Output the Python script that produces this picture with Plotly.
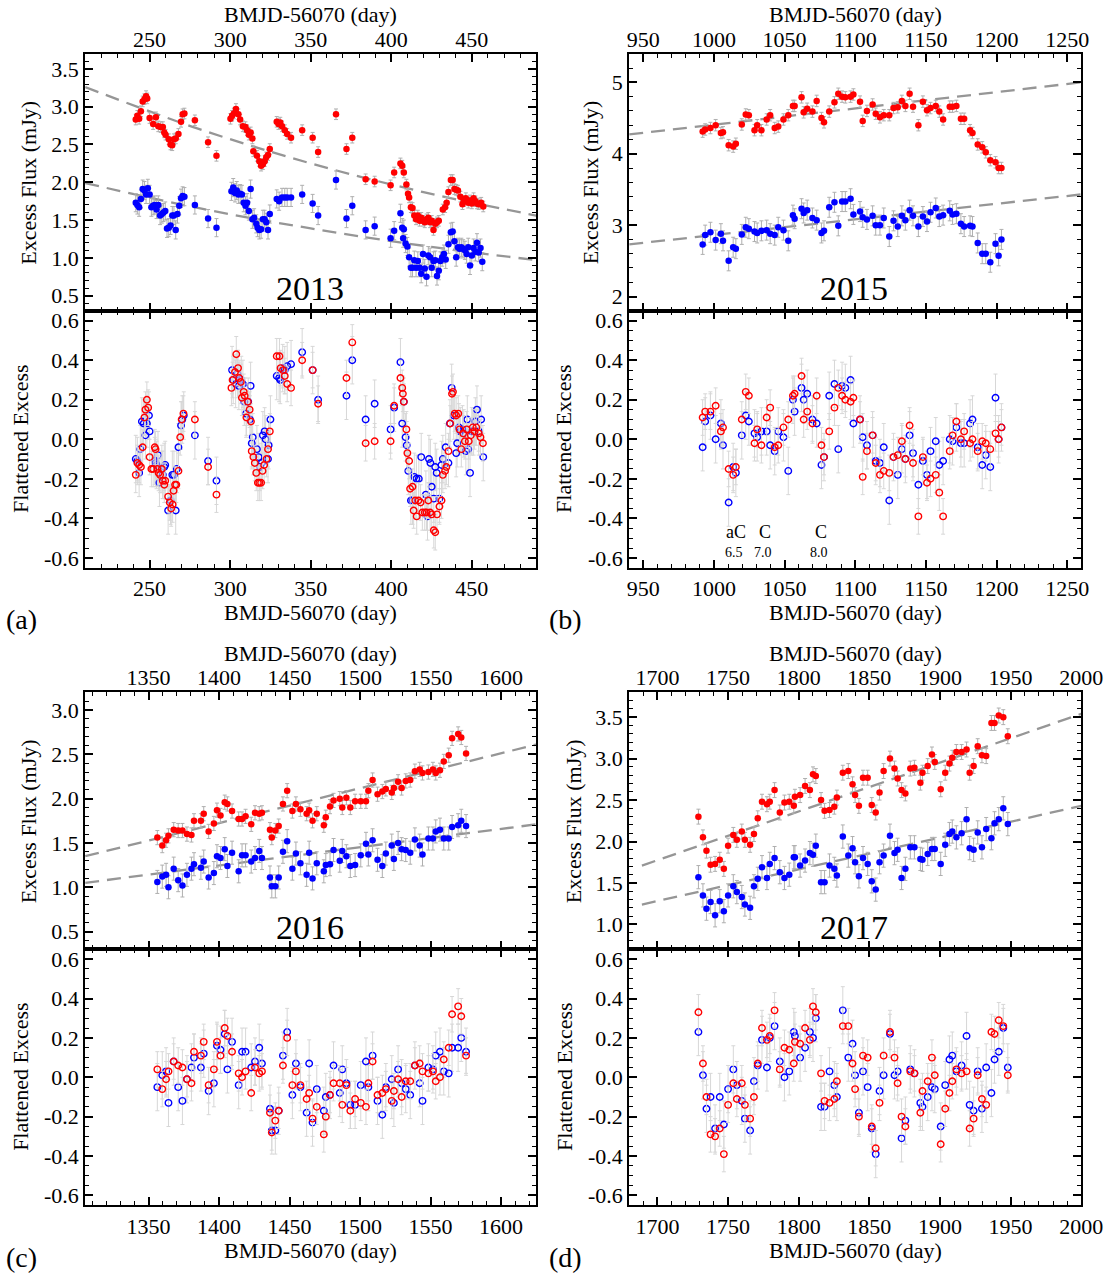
import plotly.graph_objects as go

W, H = 1115, 1280
FONT = "Liberation Serif, Times New Roman, serif"

# ======================= DATA =======================
# ---- Panel (a) 2013 : Excess flux ----
a_flux_red_x = [241.4,242.4,243.5,244.6,245.7,246.8,247.8,248.5,250.0,252.2,
                253.9,255.4,256.9,258.2,259.1,259.9,261.9,263.0,264.0,265.1,
                266.2,267.9,269.5,270.5,271.6,278.1,286.3,291.5,300.2,301.2,
                302.3,303.6,305.1,306.2,307.9,309.5,310.5,311.6,312.7,313.8,
                314.4,316.6,318.1,319.2,320.3,321.4,322.4,323.5,324.6,328.9,
                330.0,331.1,332.2,333.9,335.4,337.8,344.7,351.2,354.6,365.7,
                372.2,375.8,384.1,389.7,399.6,401.8,405.7,406.8,407.8,409.4,
                410.4,411.1,412.2,413.2,414.3,415.4,416.5,417.6,418.6,419.7,
                420.8,421.9,423.0,424.1,425.1,426.2,427.3,428.4,429.5,432.0,
                433.4,434.4,435.5,437.0,438.1,439.2,440.3,441.4,442.9,444.2,
                445.0,446.3,447.8,448.9,450.0,451.1,452.2,453.2,454.3,455.8,457.1]
a_flux_red_y = [2.83,2.88,2.84,2.94,3.07,3.10,3.14,3.11,2.85,2.77,
                2.86,2.74,2.73,2.73,2.66,2.63,2.57,2.50,2.49,2.57,
                2.58,2.64,2.80,2.90,2.91,2.82,2.53,2.35,2.84,2.88,
                2.91,2.97,2.90,2.83,2.74,2.73,2.69,2.63,2.66,2.58,
                2.41,2.35,2.28,2.22,2.24,2.28,2.33,2.36,2.44,2.80,
                2.77,2.79,2.74,2.69,2.64,2.59,2.69,2.59,2.40,2.90,
                2.44,2.59,2.04,2.01,1.96,2.13,2.25,2.22,2.13,1.97,
                1.85,1.80,1.67,1.66,1.56,1.51,1.56,1.49,1.53,1.49,
                1.47,1.51,1.53,1.47,1.49,1.37,1.45,1.47,1.49,1.64,
                1.67,1.73,1.87,2.03,2.03,1.91,1.90,1.89,1.81,1.71,
                1.75,1.79,1.73,1.76,1.72,1.79,1.75,1.72,1.71,1.73,1.68]
a_flux_blue_x = [241.4,242.4,243.5,244.6,245.7,246.8,247.8,248.9,250.0,251.1,
                 252.2,253.2,254.3,255.4,256.5,257.6,258.6,259.7,260.8,261.9,
                 263.0,264.1,265.1,266.2,267.3,268.4,269.5,270.5,271.6,278.1,
                 286.3,291.5,300.8,301.9,303.0,304.1,305.1,306.2,307.3,308.4,
                 309.5,310.5,311.6,312.7,313.8,314.9,316.2,317.0,318.1,319.2,
                 320.3,321.4,322.4,323.5,324.6,328.9,330.4,332.2,333.9,335.4,
                 337.8,344.7,351.2,354.6,365.7,372.2,375.8,384.1,389.7,399.6,
                 401.8,405.7,406.8,407.4,407.8,408.9,410.0,411.1,412.2,413.2,
                 414.3,415.4,416.5,417.6,418.6,419.7,420.8,421.9,423.0,424.1,
                 425.1,426.2,427.3,428.4,429.5,430.5,431.6,432.7,433.8,435.5,
                 437.0,438.1,439.2,440.3,441.4,442.4,443.5,444.6,445.7,446.8,
                 447.8,448.9,450.0,451.1,452.2,453.2,454.3,455.4,456.5]
a_flux_blue_y = [1.73,1.70,1.67,1.78,1.91,1.89,1.84,1.92,1.84,1.67,
                 1.69,1.70,1.64,1.70,1.56,1.58,1.60,1.62,1.39,1.40,
                 1.43,1.56,1.56,1.37,1.58,1.69,1.79,1.82,1.81,1.70,
                 1.52,1.40,1.88,1.93,1.86,1.89,1.84,1.85,1.84,1.73,
                 1.69,1.73,1.62,1.91,1.51,1.53,1.45,1.40,1.37,1.38,
                 1.51,1.51,1.47,1.37,1.58,1.78,1.75,1.80,1.80,1.80,
                 1.80,1.84,1.72,1.56,2.03,1.52,1.69,1.37,1.42,1.26,
                 1.36,1.59,1.40,1.26,1.38,1.19,1.15,1.01,0.87,0.87,
                 0.97,0.87,0.96,0.87,0.79,1.05,0.86,0.75,1.03,1.01,
                 0.87,0.96,0.97,0.76,0.83,0.96,1.01,1.05,0.98,1.18,
                 1.34,1.35,1.22,1.01,1.14,1.12,1.14,1.12,1.10,1.05,
                 1.14,0.90,1.03,1.13,1.08,1.20,1.07,1.13,0.95]
a_fit_x = [210, 280, 350, 420, 490]
a_fit_red = [3.26, 2.71, 2.25, 1.87, 1.56]
a_fit_blue = [1.99, 1.66, 1.39, 1.16, 0.97]

# ---- Panel (a) 2013 : Flattened excess ----
a_flat_red_x = [241.4,242.4,243.5,244.6,245.7,246.8,247.4,248.3,249.1,250.0,
                251.1,252.2,253.2,253.7,254.8,255.6,256.5,257.6,258.2,259.1,
                259.7,261.5,262.5,263.4,264.3,264.9,265.8,266.6,267.9,269.0,
                269.9,271.0,278.1,286.3,291.5,300.8,301.5,303.0,303.8,304.9,
                305.6,306.6,307.3,308.4,309.0,310.1,311.0,312.1,312.9,313.4,
                314.4,315.3,316.2,317.2,318.1,319.2,320.1,321.1,322.6,323.5,
                324.6,328.9,330.6,331.3,332.8,333.9,335.4,337.8,344.7,351.2,
                354.6,372.2,375.8,384.1,389.7,399.6,401.8,405.7,406.8,407.2,
                407.8,409.4,410.0,411.1,411.7,413.2,413.9,414.9,415.8,416.9,
                418.2,419.3,420.8,421.9,423.0,424.1,425.1,426.4,427.3,428.4,
                429.9,431.2,432.0,433.4,434.2,435.5,436.6,437.7,438.3,439.4,
                440.3,441.6,442.4,443.5,444.6,445.7,446.8,448.1,449.4,450.6,
                451.7,452.8,454.3,455.4,456.9]
a_flat_red_y = [-0.18,-0.12,-0.13,-0.14,-0.04,0.11,0.15,0.20,0.16,-0.09,
                -0.15,-0.15,-0.04,-0.05,-0.15,-0.17,-0.18,-0.15,-0.21,-0.23,
                -0.21,-0.29,-0.32,-0.35,-0.33,-0.26,-0.23,-0.23,-0.16,0.01,
                0.10,0.13,0.10,-0.14,-0.28,0.26,0.30,0.34,0.43,0.36,
                0.31,0.29,0.21,0.24,0.22,0.11,0.19,0.15,0.09,-0.06,
                -0.09,-0.12,-0.17,-0.22,-0.22,-0.22,-0.16,-0.13,-0.10,-0.05,
                0.04,0.42,0.42,0.36,0.35,0.32,0.28,0.26,0.40,0.35,
                0.18,0.31,0.49,-0.02,-0.01,-0.01,0.17,0.31,0.26,0.23,
                0.19,0.05,-0.07,-0.11,-0.25,-0.24,-0.36,-0.31,-0.39,-0.31,
                -0.32,-0.37,-0.37,-0.37,-0.31,-0.37,-0.38,-0.46,-0.47,-0.38,
                -0.34,-0.31,-0.18,-0.16,-0.14,-0.06,0.08,0.23,0.24,0.13,
                0.12,0.13,0.05,-0.05,0.03,-0.01,0.05,-0.01,0.02,0.06,
                0.04,0.06,0.03,0.01,-0.02]
a_flat_blue_x = [241.4,242.4,243.5,244.2,245.2,246.3,247.4,248.3,249.6,250.0,
                 253.2,253.7,254.3,255.2,256.1,257.6,258.2,259.1,259.7,261.5,
                 263.0,264.1,265.1,266.2,266.9,267.9,269.5,270.3,271.2,278.1,
                 286.3,291.5,301.2,301.9,303.4,304.5,305.4,306.9,307.9,308.8,
                 309.9,311.2,312.3,312.7,313.4,314.0,316.6,317.7,318.5,319.6,
                 320.3,321.4,322.0,323.5,323.9,325.0,328.9,330.4,331.1,332.6,
                 333.9,335.4,337.8,344.7,351.2,354.6,372.2,375.8,384.1,389.7,
                 399.6,401.8,405.7,406.8,407.8,408.9,409.6,410.6,412.2,413.2,
                 414.3,415.6,417.1,418.6,421.5,422.5,423.4,424.3,425.1,426.4,
                 427.3,428.2,429.9,431.2,432.0,433.8,435.5,436.4,437.5,438.8,
                 440.3,440.9,442.0,442.9,444.2,445.0,446.3,447.2,447.8,448.9,
                 450.0,451.1,452.2,453.2,454.3,455.8,457.1]
a_flat_blue_y = [-0.10,-0.11,-0.17,-0.05,0.09,0.08,0.02,0.08,0.12,0.04,
                 -0.11,-0.12,-0.13,-0.08,-0.22,-0.15,-0.18,-0.14,-0.13,-0.36,
                 -0.31,-0.18,-0.18,-0.36,-0.15,-0.04,0.07,0.10,0.12,0.02,
                 -0.11,-0.21,0.35,0.30,0.28,0.33,0.27,0.30,0.28,0.19,
                 0.13,0.19,0.10,0.27,-0.02,0.01,-0.05,-0.09,-0.14,-0.12,
                 0.02,0.04,0.00,-0.10,-0.03,0.10,0.32,0.31,0.30,0.36,
                 0.35,0.37,0.38,0.44,0.35,0.20,0.22,0.40,0.10,0.18,
                 0.05,0.16,0.39,0.08,0.19,0.01,-0.03,-0.16,-0.31,-0.31,
                 -0.19,-0.20,-0.20,-0.09,-0.28,-0.39,-0.10,-0.12,-0.24,-0.30,
                 -0.14,-0.17,-0.30,-0.13,-0.10,-0.04,-0.12,0.08,0.26,0.12,
                 -0.07,-0.02,0.06,0.04,0.05,0.03,-0.06,0.10,-0.05,-0.17,
                 0.04,0.04,0.09,0.15,0.04,0.10,-0.09]

# ---- Panel (b) 2015 ----
b_x = [992.0,993.8,997.5,1001.2,1004.9,1006.4,1010.4,1013.6,1015.5,1019.7,
       1022.5,1024.7,1028.7,1030.6,1033.6,1037.3,1039.8,1043.0,1045.5,1049.2,
       1052.6,1055.9,1057.1,1062.0,1063.5,1066.0,1069.7,1072.7,1076.1,1077.9,
       1081.6,1085.3,1088.0,1090.7,1093.0,1096.7,1098.7,1103.4,1105.3,1108.3,
       1112.3,1114.5,1117.5,1120.2,1124.1,1127.1,1130.1,1133.0,1135.5,1138.5,
       1140.9,1144.7,1147.9,1150.8,1153.3,1157.0,1159.5,1162.2,1166.9,1168.9,
       1171.6,1174.8,1177.1,1181.3,1183.0,1186.7,1189.9,1192.4,1195.6,1199.3,
       1201.5,1203.5]
b_flux_red = [4.31,4.34,4.36,4.40,4.29,4.30,4.12,4.10,4.14,4.41,
              4.55,4.54,4.33,4.40,4.33,4.48,4.54,4.36,4.38,4.48,
              4.54,4.67,4.67,4.79,4.58,4.63,4.59,4.74,4.50,4.44,
              4.59,4.72,4.84,4.80,4.79,4.80,4.83,4.73,4.46,4.60,
              4.69,4.56,4.51,4.54,4.54,4.64,4.65,4.74,4.67,4.84,
              4.66,4.40,4.73,4.61,4.64,4.67,4.59,4.48,4.66,4.66,
              4.67,4.49,4.49,4.33,4.29,4.13,4.09,4.02,3.91,3.88,
              3.80,3.80]
b_flux_blue = [2.73,2.86,2.90,2.79,2.88,2.78,2.50,2.69,2.67,2.87,
               2.97,2.95,2.91,2.89,2.92,2.93,2.88,2.86,2.97,2.93,
               2.78,3.14,3.09,3.23,3.17,3.21,3.10,3.07,2.89,2.92,
               3.25,3.32,2.99,3.33,3.33,3.37,3.15,3.19,3.11,3.08,
               3.13,3.00,3.00,3.10,2.84,3.06,2.98,3.13,3.07,3.21,
               3.13,2.98,3.12,3.05,3.18,3.24,3.12,3.14,3.20,3.15,
               3.16,3.02,2.98,2.99,2.98,2.75,2.60,2.60,2.48,2.74,
               2.57,2.80]
b_flat_red = [0.11,0.14,0.14,0.17,0.04,0.06,-0.15,-0.18,-0.14,0.10,
              0.24,0.22,-0.02,0.05,-0.03,0.11,0.16,-0.04,-0.03,0.06,
              0.10,0.22,0.23,0.32,0.10,0.14,0.08,0.22,-0.03,-0.09,
              0.04,0.16,0.26,0.22,0.20,0.19,0.21,0.10,-0.19,-0.06,
              0.02,-0.12,-0.18,-0.16,-0.17,-0.09,-0.08,-0.01,-0.10,0.07,
              -0.12,-0.39,-0.09,-0.22,-0.20,-0.18,-0.27,-0.39,-0.06,0.02,
              0.09,0.00,0.04,-0.02,0.00,-0.06,-0.01,-0.02,-0.05,0.03,
              0.00,0.06]
b_flat_blue = [-0.04,0.09,0.12,0.00,0.08,-0.03,-0.32,-0.14,-0.17,0.02,
               0.12,0.09,0.03,0.01,0.04,0.04,-0.03,-0.06,0.04,0.01,
               -0.16,0.20,0.14,0.26,0.20,0.23,0.10,0.08,-0.13,-0.09,
               0.22,0.28,-0.05,0.27,0.26,0.30,0.08,0.10,0.01,-0.03,
               0.02,-0.11,-0.12,-0.04,-0.31,-0.09,-0.18,-0.05,-0.10,0.02,
               -0.07,-0.23,-0.11,-0.18,-0.06,-0.01,-0.13,-0.11,0.00,-0.01,
               0.06,-0.02,-0.02,0.08,0.10,-0.04,-0.13,-0.08,-0.14,0.21,
               0.00,0.06]
b_fit_x = [940, 1260]
b_fit_red = [4.27, 5.00]
b_fit_blue = [2.73, 3.43]
b_note_x = [1015.5, 1036.1, 1076.1]
b_note_class = ["aC", "C", "C"]
b_note_num = ["6.5", "7.0", "8.0"]

# ---- Panel (c) 2016 ----
c_x = [1356.2,1359.7,1362.4,1364.1,1367.8,1371.0,1374.0,1377.2,1380.4,1382.2,
       1387.1,1389.1,1392.6,1396.3,1398.5,1401.0,1404.0,1405.9,1409.2,1413.9,
       1416.3,1418.8,1422.8,1425.5,1428.5,1430.4,1436.1,1437.4,1439.9,1442.3,
       1445.3,1448.3,1452.0,1454.5,1457.7,1462.1,1463.9,1466.3,1469.3,1474.3,
       1475.7,1478.7,1481.2,1485.6,1487.4,1490.3,1493.1,1496.5,1500.5,1504.2,
       1505.9,1508.9,1512.4,1515.8,1518.3,1522.5,1524.0,1527.0,1529.5,1532.4,
       1535.6,1538.9,1542.3,1544.3,1548.5,1551.7,1553.7,1556.7,1559.4,1562.9,
       1565.3,1569.6,1571.8,1575.2]
c_flux_red = [1.56,1.47,1.53,1.58,1.65,1.64,1.64,1.60,1.59,1.75,
              1.75,1.83,1.63,1.72,1.87,1.81,1.96,1.94,1.86,1.77,
              1.77,1.80,1.71,1.84,1.83,1.84,1.65,1.56,1.64,1.69,
              1.94,2.09,1.86,1.94,1.88,1.83,1.87,1.75,1.83,1.70,
              1.79,1.91,1.98,2.00,1.90,2.01,1.90,1.97,1.97,1.97,
              2.09,2.21,2.05,2.08,2.11,2.07,2.12,2.19,2.12,2.20,
              2.21,2.31,2.33,2.29,2.30,2.33,2.29,2.32,2.42,2.49,
              2.68,2.73,2.69,2.51]
c_flux_blue = [1.06,1.12,1.14,1.00,1.21,1.08,1.02,1.14,1.21,1.26,
               1.22,1.29,1.11,1.16,1.35,1.33,1.43,1.24,1.39,1.18,
               1.36,1.36,1.29,1.33,1.41,1.33,1.11,1.01,1.01,1.11,
               1.40,1.52,1.21,1.38,1.27,1.14,1.39,1.10,1.27,1.18,
               1.25,1.26,1.42,1.30,1.41,1.35,1.24,1.25,1.36,1.49,
               1.37,1.53,1.31,1.24,1.38,1.47,1.32,1.50,1.43,1.42,
               1.39,1.54,1.47,1.37,1.55,1.55,1.63,1.65,1.55,1.55,
               1.68,1.70,1.75,1.69]
c_flat_red = [0.04,-0.06,-0.01,0.03,0.08,0.06,0.05,-0.01,-0.03,0.13,
              0.11,0.18,-0.04,0.04,0.18,0.11,0.25,0.21,0.13,0.02,
              0.00,0.03,-0.08,0.05,0.02,0.03,-0.18,-0.28,-0.22,-0.17,
              0.06,0.20,-0.04,0.03,-0.04,-0.11,-0.08,-0.21,-0.15,-0.29,
              -0.20,-0.09,-0.03,-0.03,-0.14,-0.04,-0.17,-0.11,-0.13,-0.15,
              -0.03,0.08,-0.09,-0.08,-0.06,-0.12,-0.07,-0.01,-0.10,-0.02,
              -0.02,0.06,0.07,0.03,0.02,0.03,-0.02,0.00,0.09,0.15,
              0.32,0.36,0.31,0.11]
c_flat_blue = [-0.05,0.01,0.03,-0.13,0.08,-0.05,-0.12,-0.01,0.05,0.10,
               0.05,0.12,-0.07,-0.03,0.16,0.14,0.22,0.04,0.18,-0.04,
               0.13,0.13,0.05,0.08,0.15,0.07,-0.16,-0.27,-0.27,-0.17,
               0.11,0.23,-0.09,0.07,-0.05,-0.18,0.07,-0.23,-0.06,-0.17,
               -0.10,-0.09,0.06,-0.08,0.04,-0.03,-0.14,-0.14,-0.04,0.08,
               -0.05,0.11,-0.12,-0.19,-0.05,-0.01,-0.13,0.04,-0.03,-0.06,
               -0.09,0.06,-0.03,-0.12,0.05,0.04,0.11,0.13,0.03,0.02,
               0.15,0.15,0.20,0.13]
c_fit_x = [1305, 1625]
c_fit_red = [1.35, 2.61]
c_fit_blue = [1.05, 1.71]

# ---- Panel (d) 2017 ----
d_x = [1729.0,1732.2,1734.7,1737.6,1740.8,1744.1,1747.0,1750.0,1753.7,1756.2,
       1759.7,1761.9,1765.6,1768.3,1771.0,1774.0,1777.5,1779.5,1782.9,1786.6,
       1789.9,1793.3,1796.5,1797.3,1801.0,1804.5,1807.9,1810.1,1812.1,1815.8,
       1818.3,1821.8,1825.2,1827.0,1831.2,1835.1,1838.1,1839.9,1842.6,1845.5,
       1848.8,1851.7,1854.5,1857.2,1860.1,1864.6,1867.8,1870.0,1872.8,1875.5,
       1879.0,1881.9,1886.1,1887.6,1891.3,1894.3,1896.3,1900.5,1903.7,1906.7,
       1908.7,1911.6,1915.3,1918.8,1921.0,1923.8,1926.7,1929.7,1932.7,1936.4,
       1938.6,1941.6,1944.8,1948.0]
d_flux_red = [2.30,2.05,1.89,1.72,1.73,1.78,1.67,1.95,2.08,2.02,
              2.12,2.02,1.96,2.09,2.28,2.48,2.45,2.48,2.62,2.35,
              2.47,2.48,2.43,2.54,2.56,2.67,2.62,2.81,2.79,2.50,
              2.37,2.38,2.42,2.53,2.83,2.85,2.69,2.56,2.43,2.77,
              2.77,2.44,2.35,2.59,2.85,3.00,2.88,2.76,2.62,2.58,
              2.88,2.89,2.71,2.83,2.91,3.05,2.96,2.63,2.83,2.94,
              3.01,3.08,3.08,3.11,2.83,2.91,3.15,3.04,3.03,3.43,
              3.43,3.52,3.50,3.27]
d_flux_blue = [1.57,1.35,1.19,1.27,1.11,1.28,1.16,1.35,1.46,1.39,
               1.33,1.24,1.20,1.46,1.55,1.69,1.56,1.73,1.80,1.63,
               1.56,1.60,1.81,1.81,1.71,1.77,1.86,1.84,1.95,1.51,
               1.51,1.71,1.67,1.59,2.06,1.83,1.92,1.75,1.58,1.80,
               1.73,1.52,1.42,1.75,1.83,2.07,1.86,1.90,1.56,1.67,
               1.93,1.93,1.79,1.78,1.85,1.91,1.91,1.73,1.96,2.09,
               2.12,2.05,2.10,2.27,1.92,1.90,2.11,1.93,2.15,2.04,
               2.22,2.27,2.40,2.21]
d_flat_red = [0.33,0.07,-0.10,-0.29,-0.30,-0.26,-0.39,-0.14,-0.03,-0.11,
              -0.03,-0.14,-0.21,-0.10,0.07,0.25,0.19,0.21,0.34,0.04,
              0.15,0.14,0.07,0.18,0.17,0.25,0.19,0.36,0.33,0.02,
              -0.12,-0.13,-0.11,-0.02,0.26,0.26,0.07,-0.06,-0.20,0.11,
              0.10,-0.25,-0.36,-0.13,0.11,0.23,0.10,-0.03,-0.20,-0.25,
              0.03,0.02,-0.18,-0.07,-0.02,0.10,0.01,-0.34,-0.16,-0.08,
              -0.02,0.04,0.02,0.03,-0.26,-0.21,0.01,-0.11,-0.14,0.23,
              0.22,0.29,0.26,0.01]
d_flat_blue = [0.23,0.01,-0.16,-0.10,-0.26,-0.10,-0.24,-0.06,0.04,-0.04,
               -0.12,-0.21,-0.27,-0.02,0.06,0.19,0.05,0.20,0.26,0.08,
               0.00,0.03,0.23,0.21,0.10,0.15,0.23,0.20,0.30,-0.15,
               -0.15,0.03,-0.04,-0.10,0.34,0.10,0.17,0.01,-0.18,0.03,
               -0.05,-0.26,-0.39,-0.07,0.01,0.22,0.01,0.03,-0.31,-0.22,
               0.04,0.02,-0.13,-0.15,-0.10,-0.05,-0.06,-0.25,-0.04,0.09,
               0.11,0.03,0.06,0.21,-0.14,-0.17,0.03,-0.16,0.05,-0.08,
               0.09,0.13,0.25,0.05]
d_fit_x = [1689, 2000]
d_fit_red = [1.71, 3.54]
d_fit_blue = [1.24, 2.43]

# typical uncertainties (mJy / flattened units)
err_flux_red = {"a": 0.07, "b": 0.08, "c": 0.08, "d": 0.09}
err_flux_blue = {"a": 0.12, "b": 0.14, "c": 0.13, "d": 0.14}
err_flat_red = 0.09
err_flat_blue = 0.12

years = ["2013", "2015", "2016", "2017"]
panel_letters = ["(a)", "(b)", "(c)", "(d)"]
flat_tickvals = [-0.6, -0.4, -0.2, 0.0, 0.2, 0.4, 0.6]
flat_ticktext = ["-0.6", "-0.4", "-0.2", "0.0", "0.2", "0.4", "0.6"]
x_title = "BMJD-56070 (day)"
y_title_top = "Excess Flux (mJy)"
y_title_bot = "Flattened Excess"

# ======================= LAYOUT =======================
RED = "rgb(255,0,0)"
BLUE = "rgb(0,0,255)"
ERR_TOP = "rgb(175,175,175)"
ERR_BOT = "rgb(215,215,215)"
FIT = "rgb(150,150,150)"


def fx(px):
    return px / W


def fy(py):
    return 1 - py / H


panels = [
    dict(key="a", xpx=(85, 546), top=(52, 310), bot=(310, 568), xr=[210, 490],
         yr=[0.3, 3.7], ydt=0.5, ymin=0.1, yfmt=".1f",
         xs_top=a_flux_red_x, yr_top=a_flux_red_y, xb_top=a_flux_blue_x, yb_top=a_flux_blue_y,
         xs_bot=a_flat_red_x, yr_bot=a_flat_red_y, xb_bot=a_flat_blue_x, yb_bot=a_flat_blue_y,
         fit_x=a_fit_x, fit_r=a_fit_red, fit_b=a_fit_blue, spline=True,
         ytitle_top_x=27, ytitle_bot_x=19),
    dict(key="b", xpx=(641, 1103), top=(52, 310), bot=(310, 568), xr=[940, 1260],
         yr=[1.8, 5.4], ydt=1, ymin=0.2, yfmt="d",
         xs_top=b_x, yr_top=b_flux_red, xb_top=b_x, yb_top=b_flux_blue,
         xs_bot=b_x, yr_bot=b_flat_red, xb_bot=b_x, yb_bot=b_flat_blue,
         fit_x=b_fit_x, fit_r=b_fit_red, fit_b=b_fit_blue, spline=False,
         ytitle_top_x=601, ytitle_bot_x=574),
    dict(key="c", xpx=(85, 546), top=(693, 951), bot=(951, 1208), xr=[1305, 1625],
         yr=[0.3, 3.2], ydt=0.5, ymin=0.1, yfmt=".1f",
         xs_top=c_x, yr_top=c_flux_red, xb_top=c_x, yb_top=c_flux_blue,
         xs_bot=c_x, yr_bot=c_flat_red, xb_bot=c_x, yb_bot=c_flat_blue,
         fit_x=c_fit_x, fit_r=c_fit_red, fit_b=c_fit_blue, spline=False,
         ytitle_top_x=27, ytitle_bot_x=19),
    dict(key="d", xpx=(641, 1103), top=(693, 951), bot=(951, 1208), xr=[1680, 2000],
         yr=[0.7, 3.8], ydt=0.5, ymin=0.1, yfmt=".1f",
         xs_top=d_x, yr_top=d_flux_red, xb_top=d_x, yb_top=d_flux_blue,
         xs_bot=d_x, yr_bot=d_flat_red, xb_bot=d_x, yb_bot=d_flat_blue,
         fit_x=d_fit_x, fit_r=d_fit_red, fit_b=d_fit_blue, spline=False,
         ytitle_top_x=584, ytitle_bot_x=575),
]

fig = go.Figure()
tick_font = dict(family=FONT, size=22, color="black")


def ax_common():
    return dict(showline=True, linecolor="black", linewidth=2, mirror="ticks",
                ticks="inside", ticklen=8, tickwidth=1.5, tickcolor="black",
                showgrid=False, zeroline=False, tickfont=tick_font,
                ticklabeloverflow="allow")


annotations = []
for i, p in enumerate(panels):
    nt = 2 * i + 1
    nb = 2 * i + 2
    xt, yt = f"x{nt}", f"y{nt}"
    xb, yb = f"x{nb}", f"y{nb}"
    xdom = [fx(p["xpx"][0]), fx(p["xpx"][1])]

    # --- top: excess flux ---
    shape = "spline" if p["spline"] else "linear"
    for fy_vals in (p["fit_r"], p["fit_b"]):
        fig.add_trace(go.Scatter(x=p["fit_x"], y=fy_vals, mode="lines",
                                 line=dict(color=FIT, width=2.3, dash="14px,8px", shape=shape),
                                 xaxis=xt, yaxis=yt, showlegend=False, hoverinfo="skip"))
    fig.add_trace(go.Scatter(x=p["xb_top"], y=p["yb_top"], mode="markers",
                             marker=dict(color=BLUE, size=6.5, line=dict(width=0)),
                             error_y=dict(type="constant", value=err_flux_blue[p["key"]],
                                          color=ERR_TOP, thickness=1, width=2),
                             xaxis=xt, yaxis=yt, showlegend=False))
    fig.add_trace(go.Scatter(x=p["xs_top"], y=p["yr_top"], mode="markers",
                             marker=dict(color=RED, size=6.5, line=dict(width=0)),
                             error_y=dict(type="constant", value=err_flux_red[p["key"]],
                                          color=ERR_TOP, thickness=1, width=2),
                             xaxis=xt, yaxis=yt, showlegend=False))
    # --- bottom: flattened excess ---
    fig.add_trace(go.Scatter(x=p["xb_bot"], y=p["yb_bot"], mode="markers",
                             marker=dict(color=BLUE, size=6.5, symbol="circle-open",
                                         line=dict(width=1.4, color=BLUE)),
                             error_y=dict(type="constant", value=err_flat_blue,
                                          color=ERR_BOT, thickness=1, width=2),
                             xaxis=xb, yaxis=yb, showlegend=False))
    fig.add_trace(go.Scatter(x=p["xs_bot"], y=p["yr_bot"], mode="markers",
                             marker=dict(color=RED, size=6.5, symbol="circle-open",
                                         line=dict(width=1.4, color=RED)),
                             error_y=dict(type="constant", value=err_flat_red,
                                          color=ERR_BOT, thickness=1, width=2),
                             xaxis=xb, yaxis=yb, showlegend=False))

    minor_x = dict(dtick=10, tick0=0, ticks="inside", ticklen=4, tickwidth=1, tickcolor="black")
    fig.update_layout(**{
        f"xaxis{nt}": dict(**ax_common(), domain=xdom, range=p["xr"], anchor=yt, side="top",
                           dtick=50, tick0=0, minor=minor_x, ticklabelstandoff=-4),
        f"yaxis{nt}": dict(**ax_common(), domain=[fy(p["top"][1]), fy(p["top"][0])],
                           range=p["yr"], anchor=xt, dtick=p["ydt"], tick0=0,
                           tickformat=p["yfmt"],
                           minor=dict(dtick=p["ymin"], tick0=0, ticks="inside", ticklen=4,
                                      tickwidth=1, tickcolor="black")),
        f"xaxis{nb}": dict(**ax_common(), domain=xdom, range=p["xr"], anchor=yb, side="bottom",
                           dtick=50, tick0=0, minor=minor_x),
        f"yaxis{nb}": dict(**ax_common(), domain=[fy(p["bot"][1]), fy(p["bot"][0])],
                           range=[-0.65, 0.65], anchor=xb, tickvals=flat_tickvals,
                           ticktext=flat_ticktext,
                           minor=dict(dtick=0.05, tick0=0, ticks="inside", ticklen=4,
                                      tickwidth=1, tickcolor="black")),
    })

    xc = (p["xpx"][0] + p["xpx"][1]) / 2
    tf = dict(family=FONT, size=22, color="black")
    annotations += [
        dict(text=x_title, x=fx(xc), y=fy(p["top"][0] - 39), xref="paper", yref="paper",
             showarrow=False, font=tf, xanchor="center", yanchor="middle"),
        dict(text=x_title, x=fx(xc), y=fy(p["bot"][1] + 45), xref="paper", yref="paper",
             showarrow=False, font=tf, xanchor="center", yanchor="middle"),
        dict(text=y_title_top, x=fx(p["ytitle_top_x"]), y=fy((p["top"][0] + p["top"][1]) / 2),
             xref="paper", yref="paper", showarrow=False, font=tf, textangle=-90,
             xanchor="center", yanchor="middle"),
        dict(text=y_title_bot, x=fx(p["ytitle_bot_x"]), y=fy((p["bot"][0] + p["bot"][1]) / 2),
             xref="paper", yref="paper", showarrow=False, font=tf, textangle=-90,
             xanchor="center", yanchor="middle"),
        dict(text=years[i], x=fx(xc - 1), y=fy(p["top"][1] - 22), xref="paper", yref="paper",
             showarrow=False, font=dict(family=FONT, size=34, color="black"),
             xanchor="center", yanchor="middle"),
        dict(text=panel_letters[i], x=fx(p["xpx"][0] - 65), y=fy(p["bot"][1] + 52),
             xref="paper", yref="paper", showarrow=False,
             font=dict(family=FONT, size=28, color="black"), xanchor="center", yanchor="middle"),
    ]

# spectral-class notes in panel (b) flattened plot
for xv, cls, num in zip(b_note_x, b_note_class, b_note_num):
    annotations.append(dict(text=cls, x=xv, y=-0.469, xref="x4", yref="y4", showarrow=False,
                            font=dict(family=FONT, size=18, color="black"),
                            xanchor="center", yanchor="middle"))
    annotations.append(dict(text=num, x=xv - 1.5, y=-0.575, xref="x4", yref="y4", showarrow=False,
                            font=dict(family=FONT, size=14, color="black"),
                            xanchor="center", yanchor="middle"))

fig.update_layout(width=W, height=H, margin=dict(l=0, r=0, t=0, b=0),
                  paper_bgcolor="white", plot_bgcolor="white",
                  annotations=annotations, showlegend=False,
                  font=dict(family=FONT, color="black"))

fig.write_html("out.html")
